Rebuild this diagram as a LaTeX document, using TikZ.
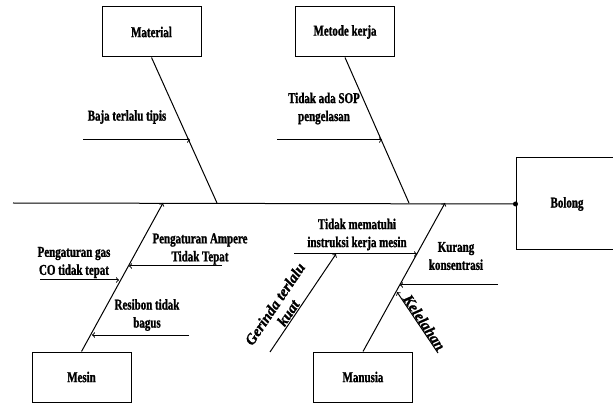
\documentclass[tikz,border=0pt]{standalone}
\usepackage{fontspec}
\setmainfont{Liberation Serif}[FakeStretch=0.73,
  BoldFeatures={FakeBold=1.3}, BoldItalicFeatures={FakeBold=1.3}]
\newfontfamily\rotfont{Liberation Serif}[BoldItalicFeatures={FakeBold=1.3}]
\begin{document}
\begin{tikzpicture}[x=1pt,y=-1pt, line width=1pt,
  box/.style={draw, minimum width=99pt, minimum height=50pt, inner sep=0pt,
    font=\bfseries\fontsize{15}{18}\selectfont},
  lbl/.style={align=center, inner sep=1pt, font=\bfseries\fontsize{15}{18}\selectfont},
  ilbl/.style={align=center, font=\rotfont\bfseries\itshape\fontsize{15}{16}\selectfont},
  cause/.style={->, >=to}]
\useasboundingbox (0,0) rectangle (613,403);
\clip (0,0) rectangle (613,403);
% category boxes
\node[box] (mat) at (151.5,32) {Material};
\node[box] (met) at (345,32) {Metode kerja};
\node[box] (mes) at (81.5,377) {Mesin};
\node[box] (man) at (363,377) {Manusia};
\node[box, minimum width=102pt, minimum height=92pt] (bol) at (567,204) {Bolong};
% spine
\coordinate (tail) at (13,203);
\draw (tail) -- (bol.west);
\fill (bol.west) circle (2.5);
% bones
\coordinate (matj) at (217,203);
\coordinate (metj) at (409,203);
\coordinate (mesj) at (163,203);
\coordinate (manj) at (445,203);
\draw (mat.south) -- (matj);
\draw (met.south) -- (metj);
\draw[cause] (mes.north) -- (mesj);
\draw[cause] (man.north) -- (manj);
% Material
\coordinate (bajaS) at (83,140); \coordinate (bajaE) at (190,140);
\draw[cause] (bajaS) -- (bajaE);
\node[lbl] (baja) at (127,117) {Baja terlalu tipis};
% Metode kerja
\coordinate (sopS) at (277,140); \coordinate (sopE) at (382,140);
\draw[cause] (sopS) -- (sopE);
\node[lbl] (sop) at (324,108.5) {Tidak ada SOP\\pengelasan};
% Mesin
\coordinate (ampS) at (222,266); \coordinate (ampE) at (129,266);
\draw[cause] (ampS) -- (ampE);
\node[lbl] (amp) at (200,249) {Pengaturan Ampere\\Tidak Tepat};
\coordinate (gasS) at (40,280); \coordinate (gasE) at (119,280);
\draw[cause] (gasS) -- (gasE);
\node[lbl] (gas) at (74,262.5) {Pengaturan gas\\CO tidak tepat};
\coordinate (resS) at (189,335); \coordinate (resE) at (92,335);
\draw[cause] (resS) -- (resE);
\node[lbl] (res) at (147,315) {Resibon tidak\\bagus};
% Manusia
\coordinate (insS) at (294,254); \coordinate (insE) at (417,254);
\draw[cause] (insS) -- (insE);
\node[lbl] (ins) at (357,234.5) {Tidak mematuhi\\instruksi kerja mesin};
\coordinate (gerS) at (270,352); \coordinate (gerE) at (336,254);
\draw[cause] (gerS) -- node[pos=0.36, sloped, above, ilbl, inner sep=1pt] (ger) {Gerinda terlalu\\kuat} (gerE);
\coordinate (kurS) at (498,285); \coordinate (kurE) at (400,285);
\draw[cause] (kurS) -- (kurE);
\node[lbl] (kur) at (456,256) {Kurang\\konsentrasi};
\coordinate (kelS) at (438,353); \coordinate (kelE) at (397,292);
\draw[cause] (kelS) -- node[pos=0.45, sloped, above, ilbl, inner sep=0pt] (kel) {Kelelahan} (kelE);
\end{tikzpicture}
\end{document}
